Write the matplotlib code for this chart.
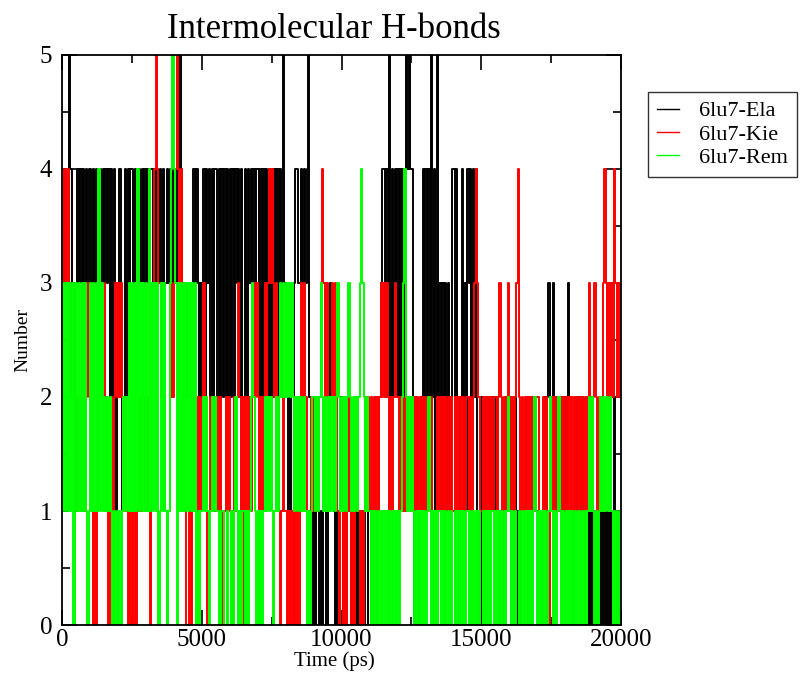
import numpy as np
import matplotlib
matplotlib.use('Agg')
import matplotlib.pyplot as plt
from matplotlib.ticker import MultipleLocator

plt.rcParams['font.family'] = ['Liberation Serif', 'DejaVu Serif']
plt.rcParams['path.simplify'] = False

# number of H-bonds, one digit per 50 ps, 500 ps per chunk
ela_chunks = [
    "4343354323", "3434343434", "4343433434", "3434242412", "2421242434",
    "4343343434", "3434434343", "4343343434", "3434543232", "3323434323",
    "2424342424", "4242424242", "4242434242", "2424343434", "4242424242",
    "4242424253", "3212113443", "3434345210", "1011010110", "1232101012",
    "1010121010", "1010101001", "1010101234", "4242524242", "4242425454",
    "4201010242", "4242524152", "3131313124", "4242024131", "4342424010",
    "2121212121", "2110101012", "2121210101", "1010102121", "1010121232",
    "2321212121", "2132101212", "2121010101", "1010101010", "1010121010",
    "1",
]
kie_chunks = [
    "4343432321", "1212121232", "2101012323", "3210121232", "3232121010",
    "1010121212", "1210234543", "3232101232", "3454343210", "0101212121",
    "2321012121", "1212101212", "1012123212", "0121212323", "2121232343",
    "4323210121", "1010101010", "2323210121", "2121234323", "2123232101",
    "1010121010", "1210101212", "1212121232", "3232121232", "2121212121",
    "2121212121", "2121210121", "2121212121", "1212121212", "2121234321",
    "1212121212", "2123212123", "2121234212", "1212121212", "2101212101",
    "2121212121", "1212121212", "2121212321", "2321212343", "2323243232",
    "2",
]
rem_chunks = [
    "1313131303", "3131313101", "3131314131", "2121210101", "0101212131",
    "3131413131", "3141313130", "1313101345", "4303131313", "1313130101",
    "1212101212", "1100110010", "0101210101", "1010123210", "1010121212",
    "1012123232", "3232321212", "1212101012", "2121232121", "2121212321",
    "2121232121", "2123432121", "1010101010", "1010101010", "1012342121",
    "2101010101", "0121010101", "1010101010", "0101010101", "1010101010",
    "0101010110", "1010101012", "1010100101", "0101010121", "0101010012",
    "1010121010", "0101010101", "1010101212", "1010121212", "2121010101",
    "1",
]

series_names = ["6lu7-Ela", "6lu7-Kie", "6lu7-Rem"]
series_colors = ["#000000", "#ff0000", "#00ff00"]
series_data = [ela_chunks, kie_chunks, rem_chunks]

fig = plt.figure(figsize=(8.07, 6.77), dpi=100)
ax = fig.add_axes([62 / 807, 1 - 625 / 677, (621 - 62) / 807, (625 - 55) / 677])

for name, color, chunks in zip(series_names, series_colors, series_data):
    values = [int(c) for c in "".join(chunks)]
    time = np.arange(len(values)) * 50
    ax.plot(time, values, color=color, lw=1.4, drawstyle='steps-post',
            label=name)

ax.set_xlim(0, 20000)
ax.set_ylim(0, 5)
ax.xaxis.set_major_locator(MultipleLocator(5000))
ax.xaxis.set_minor_locator(MultipleLocator(2500))
ax.yaxis.set_major_locator(MultipleLocator(1))
ax.yaxis.set_minor_locator(MultipleLocator(0.5))
ax.tick_params(which='both', direction='in', top=True, right=True, width=1.2,
               labelsize=18)
ax.tick_params(axis='x', pad=3)
ax.tick_params(axis='y', pad=7)
ax.tick_params(which='major', length=11)
ax.tick_params(which='minor', length=6)
for sp in ax.spines.values():
    sp.set_linewidth(1.3)

ax.set_title("Intermolecular H-bonds", fontsize=25, pad=12, x=0.487)
ax.set_xlabel("Time (ps)", fontsize=15, labelpad=0, x=0.487)
ax.set_ylabel("Number", fontsize=14, labelpad=6)

leg = fig.legend(loc='upper left', bbox_to_anchor=(648 / 807, 1 - 92 / 677),
                 fontsize=16, frameon=True, fancybox=False, edgecolor='black',
                 handlelength=1.0, handletextpad=0.9, borderpad=0.4,
                 labelspacing=0.12, borderaxespad=0)
leg.get_frame().set_linewidth(1.0)
for line in leg.get_lines():
    line.set_linewidth(1.0)

fig.savefig("out.png", dpi=100)
